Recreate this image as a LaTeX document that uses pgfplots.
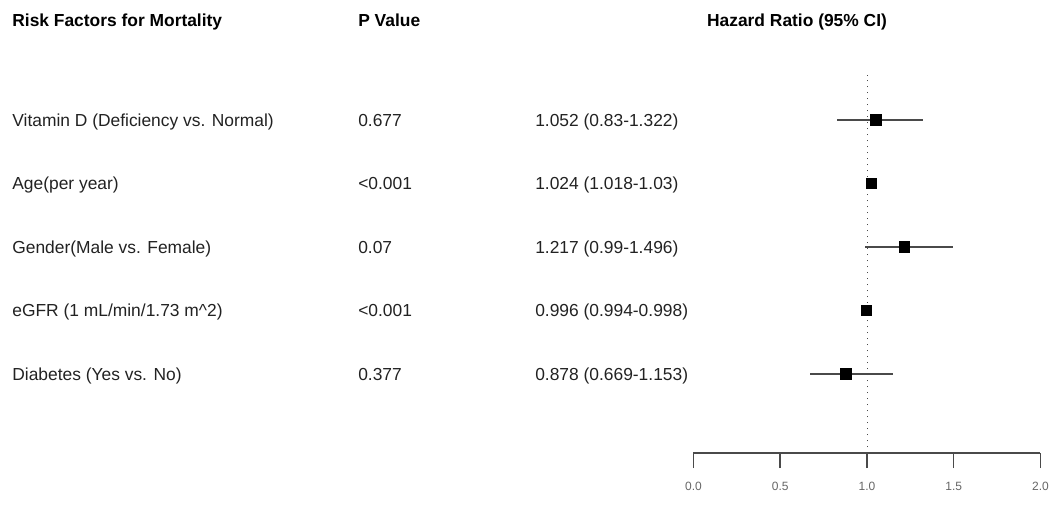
\documentclass[border=0pt]{standalone}
\usepackage{pgfplots}
\usepackage{pgfplotstable}
\pgfplotsset{compat=1.18}
\usepackage{fontspec}
\setmainfont{Liberation Sans}
\definecolor{txt}{HTML}{222222}
\definecolor{ln}{HTML}{4A4A4A}
\definecolor{tk}{HTML}{666666}
\pgfplotstableread{
y hr lo hi
5 1.052 0.830 1.322
4 1.024 1.018 1.030
3 1.217 0.990 1.496
2 0.996 0.994 0.998
1 0.878 0.669 1.153
}\hrdata
\begin{document}
\begin{tikzpicture}
\begin{axis}[
  x=86.75pt, y=31.75pt,
  xmin=0, xmax=2, ymin=-0.244, ymax=5.71,
  clip=false,
  axis x line*=bottom, axis y line=none,
  axis line style={ln, line width=0.8pt},
  xtick={0,0.5,1,1.5,2},
  xticklabels={0.0,0.5,1.0,1.5,2.0},
  xtick align=outside,
  major tick length=7.5pt,
  tick style={ln, line width=0.8pt},
  xticklabel style={font=\fontsize{6}{7}\selectfont, text=tk, inner sep=0pt, yshift=-7pt},
  /pgf/number format/assume math mode=true,
]
\path (axis cs:-3.997,-1.14) rectangle (axis cs:2.055,6.89);
\addplot[ln, line width=0.4pt, dash pattern=on 0.6pt off 2.4pt] coordinates {(1,-0.244) (1,5.71)};
\addplot[only marks, mark=square*, mark size=2.6pt, black,
  error bars/.cd, x dir=both, x explicit,
  error mark=none, error bar style={ln, line width=0.6pt}]
  table[x=hr, y=y, x error plus expr=\thisrow{hi}-\thisrow{hr}, x error minus expr=\thisrow{hr}-\thisrow{lo}] {\hrdata};
\begin{scope}[every node/.style={font=\fontsize{8.7}{10}\selectfont, text=txt, inner sep=0pt, anchor=base west}]
\node[font=\fontsize{8.7}{10}\selectfont\bfseries, text=black] at (axis cs:-3.928,6.477) {Risk Factors for Mortality};
\node[font=\fontsize{8.7}{10}\selectfont\bfseries, text=black] at (axis cs:-1.934,6.477) {P Value};
\node[anchor=base, font=\fontsize{8.7}{10}\selectfont\bfseries, text=black] at (axis cs:0.597,6.477) {Hazard Ratio (95\% CI)};
\node at (axis cs:-3.928,4.902) {Vitamin D (Deficiency vs. Normal)};
\node at (axis cs:-3.928,3.902) {Age(per year)};
\node at (axis cs:-3.928,2.902) {Gender(Male vs. Female)};
\node at (axis cs:-3.928,1.902) {eGFR (1 mL/min/1.73 m\^{}2)};
\node at (axis cs:-3.928,0.902) {Diabetes (Yes vs. No)};
\node at (axis cs:-1.934,4.902) {0.677};
\node at (axis cs:-1.934,3.902) {<0.001};
\node at (axis cs:-1.934,2.902) {0.07};
\node at (axis cs:-1.934,1.902) {<0.001};
\node at (axis cs:-1.934,0.902) {0.377};
\node at (axis cs:-0.914,4.902) {1.052 (0.83-1.322)};
\node at (axis cs:-0.914,3.902) {1.024 (1.018-1.03)};
\node at (axis cs:-0.914,2.902) {1.217 (0.99-1.496)};
\node at (axis cs:-0.914,1.902) {0.996 (0.994-0.998)};
\node at (axis cs:-0.914,0.902) {0.878 (0.669-1.153)};
\end{scope}
\end{axis}
\end{tikzpicture}
\end{document}
